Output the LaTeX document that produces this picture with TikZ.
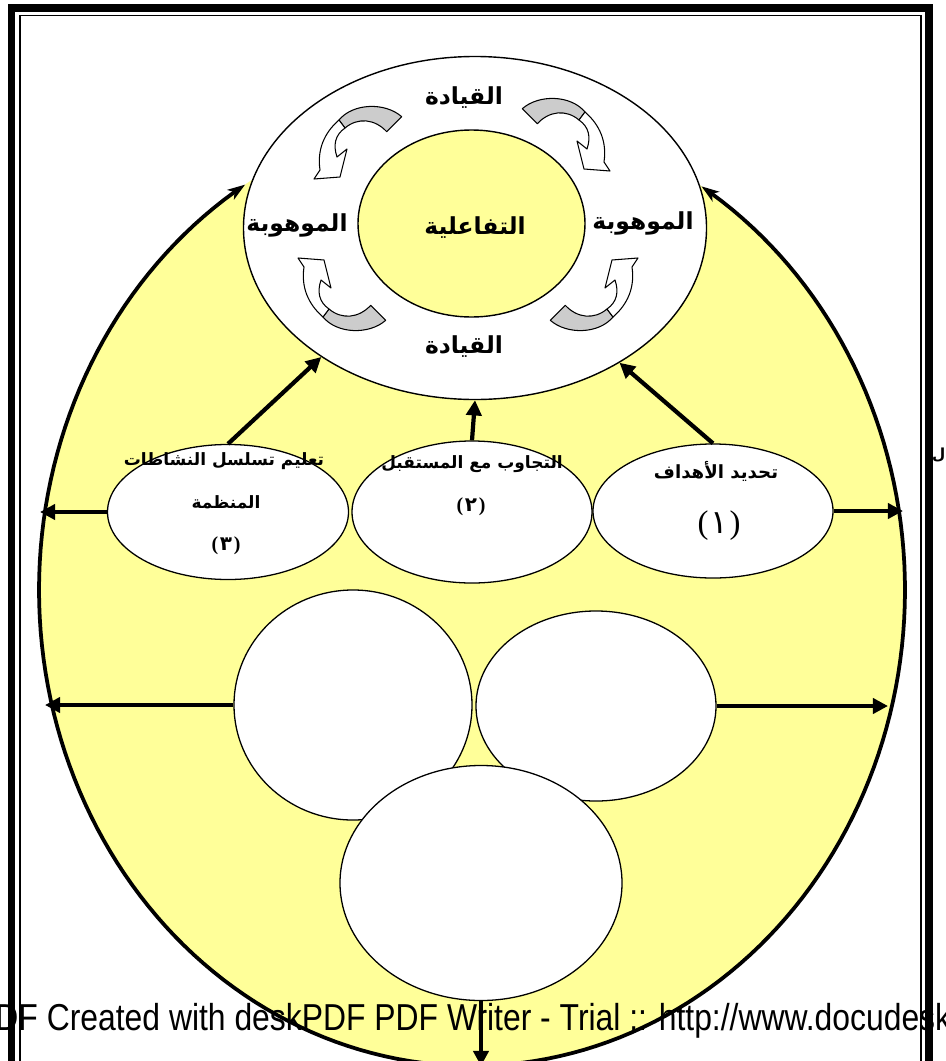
\documentclass[tikz,border=0pt]{standalone}
\usepackage{fontspec}
\setmainfont{Liberation Serif}
\newfontfamily\arabicfont[Script=Arabic]{DejaVu Sans}
\newfontfamily\markfont{Liberation Sans}
\TeXXeTstate=1
\usetikzlibrary{arrows.meta,shapes.geometric}
\definecolor{paleyellow}{RGB}{255,255,153}
\definecolor{bandgray}{RGB}{204,204,204}

% curved band arrow (grey back part, white front part with head)
\tikzset{
  curvarrow/.pic={
    \filldraw[fill=bandgray, draw=black, line width=0.9pt, line join=round]
      (-70.3,-107.3) .. controls (-87,-122) and (-119,-121) .. (-133,-104)
      -- (-127,-96) .. controls (-114,-107) and (-97,-105) .. (-85.3,-92.3) -- cycle;
    \filldraw[fill=white, draw=black, line width=0.9pt, line join=round]
      (-133,-104) .. controls (-148,-91) and (-155,-74) .. (-152,-54)
      -- (-158,-45) -- (-132,-47) -- (-125,-75) -- (-135,-67)
      .. controls (-139,-79) and (-137,-89) .. (-127,-96) -- cycle;
  },
}

% numbered tag: serif parentheses round an Arabic-Indic digit
\newcommand{\numtag}[1]{(\hspace{1.5pt}{\arabicfont #1}\hspace{1.5pt})}

\begin{document}
\begin{tikzpicture}[x=0.03cm, y=-0.03cm,
  ringlabel/.style={font=\arabicfont\bfseries\fontsize{20}{24}\selectfont, inner sep=0pt},
  bubble/.style={ellipse, draw=black, line width=1.1pt, fill=white, inner sep=0pt},
  bubbletext/.style={font=\arabicfont\bfseries\fontsize{14.5}{17}\selectfont, inner sep=0pt},
  numtext/.style={font=\bfseries\fontsize{17}{19}\selectfont, inner sep=0pt},
  conn/.style={line width=3.6pt, -{Triangle[length=13pt,width=13pt]}},
  rim/.style={line width=3.2pt, -{Stealth[length=15pt,width=10pt,inset=4pt]}},
]
\useasboundingbox (0,0) rectangle (945,1061);
\clip (0,0) rectangle (945,1061);

% page frame: heavy outer rule and thin inner rule
\draw[line width=6.4pt] (11.5,8) rectangle (929,1120);
\draw[line width=1.5pt] (20,15.5) rectangle (921,1120);

% large yellow field
\node[ellipse, fill=paleyellow, inner sep=0pt, minimum width=25.98cm, minimum height=28.56cm] (field) at (472,590) {};
\draw[rim] plot[domain=90:238.4, samples=90] ({472+433*cos(\x)},{590+476*sin(\x)});
\draw[rim] plot[domain=90:-58, samples=90] ({472+433*cos(\x)},{590+476*sin(\x)});

% ring with core
\node[ellipse, draw=black, line width=1.2pt, fill=white, inner sep=0pt, minimum width=13.89cm, minimum height=10.29cm] (ring) at (475,228) {};
\node[ellipse, draw=black, line width=1.2pt, fill=paleyellow, inner sep=0pt, minimum width=6.81cm, minimum height=5.61cm] (core) at (471.5,223.5) {};

% four curved arrows around the core
\pic at (472,224) {curvarrow};
\pic[xscale=-1] at (452,216) {curvarrow};
\pic[yscale=-1] at (456,213) {curvarrow};
\pic[xscale=-1, yscale=-1] at (480,213) {curvarrow};

% ring labels
\node[ringlabel] (lead1) at (464,98) {\beginR القيادة\endR};
\node[ringlabel] (lead2) at (464,347) {\beginR القيادة\endR};
\node[ringlabel] (gift1) at (297,225) {\beginR الموهوبة\endR};
\node[ringlabel] (gift2) at (643,223) {\beginR الموهوبة\endR};
\node[ringlabel] (inter) at (475,228) {\beginR التفاعلية\endR};

% bubbles
\node[bubble, minimum width=7.2cm, minimum height=4.02cm] (c1) at (713,511) {};
\node[bubble, minimum width=7.2cm, minimum height=4.26cm] (c2) at (472,512) {};
\node[bubble, minimum width=7.23cm, minimum height=4.05cm] (c3) at (228,512) {};
\node[bubble, minimum width=7.14cm, minimum height=6.9cm] (c4) at (353,705) {};
\node[bubble, minimum width=7.2cm, minimum height=5.7cm] (c5) at (596,706) {};
\node[bubble, minimum width=8.46cm, minimum height=7.05cm] (c6) at (481,883) {};

% bubble texts
\node[bubbletext, font=\arabicfont\bfseries\fontsize{15.5}{18}\selectfont] (t1) at (716,471) {\beginR تحديد الأهداف\endR};
\node[numtext, font=\fontsize{28}{30}\selectfont] (n1) at (719,526) {\numtag{١}};
\node[bubbletext] (t2) at (472,464) {\beginR التجاوب مع المستقبل\endR};
\node[numtext] (n2) at (471,507) {\numtag{٢}};
\node[bubbletext] (t3a) at (224,461) {\beginR تعليم تسلسل النشاطات\endR};
\node[bubbletext] (t3b) at (226,502) {\beginR المنظمة\endR};
\node[numtext] (n3) at (226,546) {\numtag{٣}};

% free ends of the outward connectors
\coordinate (L1) at (40,517);
\coordinate (R1) at (903,517);
\coordinate (L2) at (45,705);
\coordinate (R2) at (888,707);
\coordinate (B) at (470,1066);

% connectors
\draw[conn] (c3.north) -- (ring.220);
\draw[conn] (c2.north) -- (ring.south);
\draw[conn] (c1.north) -- (ring.317);
\draw[conn] (c3.west) -- (c3.west -| L1);
\draw[conn] (c1.east) -- (c1.east -| R1);
\draw[conn] (c4.west) -- (c4.west -| L2);
\draw[conn] (c5.east) -- (c5.east -| R2);
\draw[conn] (c6.south) -- (c6.south |- B);

% text cut at the right margin
\node[anchor=west, font=\arabicfont\bfseries\fontsize{13}{15}\selectfont, inner sep=0pt] (edge) at (932,455) {\beginR ال\endR};

% trial stamp across the lower part
\node[anchor=base west, inner sep=0pt, font=\markfont\fontsize{32}{32}\selectfont] (stamp) at (-26,1030)
  {\scalebox{0.85}[1]{PDF Created with deskPDF PDF Writer - Trial :: http://www.docudesk.com}};
\end{tikzpicture}
\end{document}
